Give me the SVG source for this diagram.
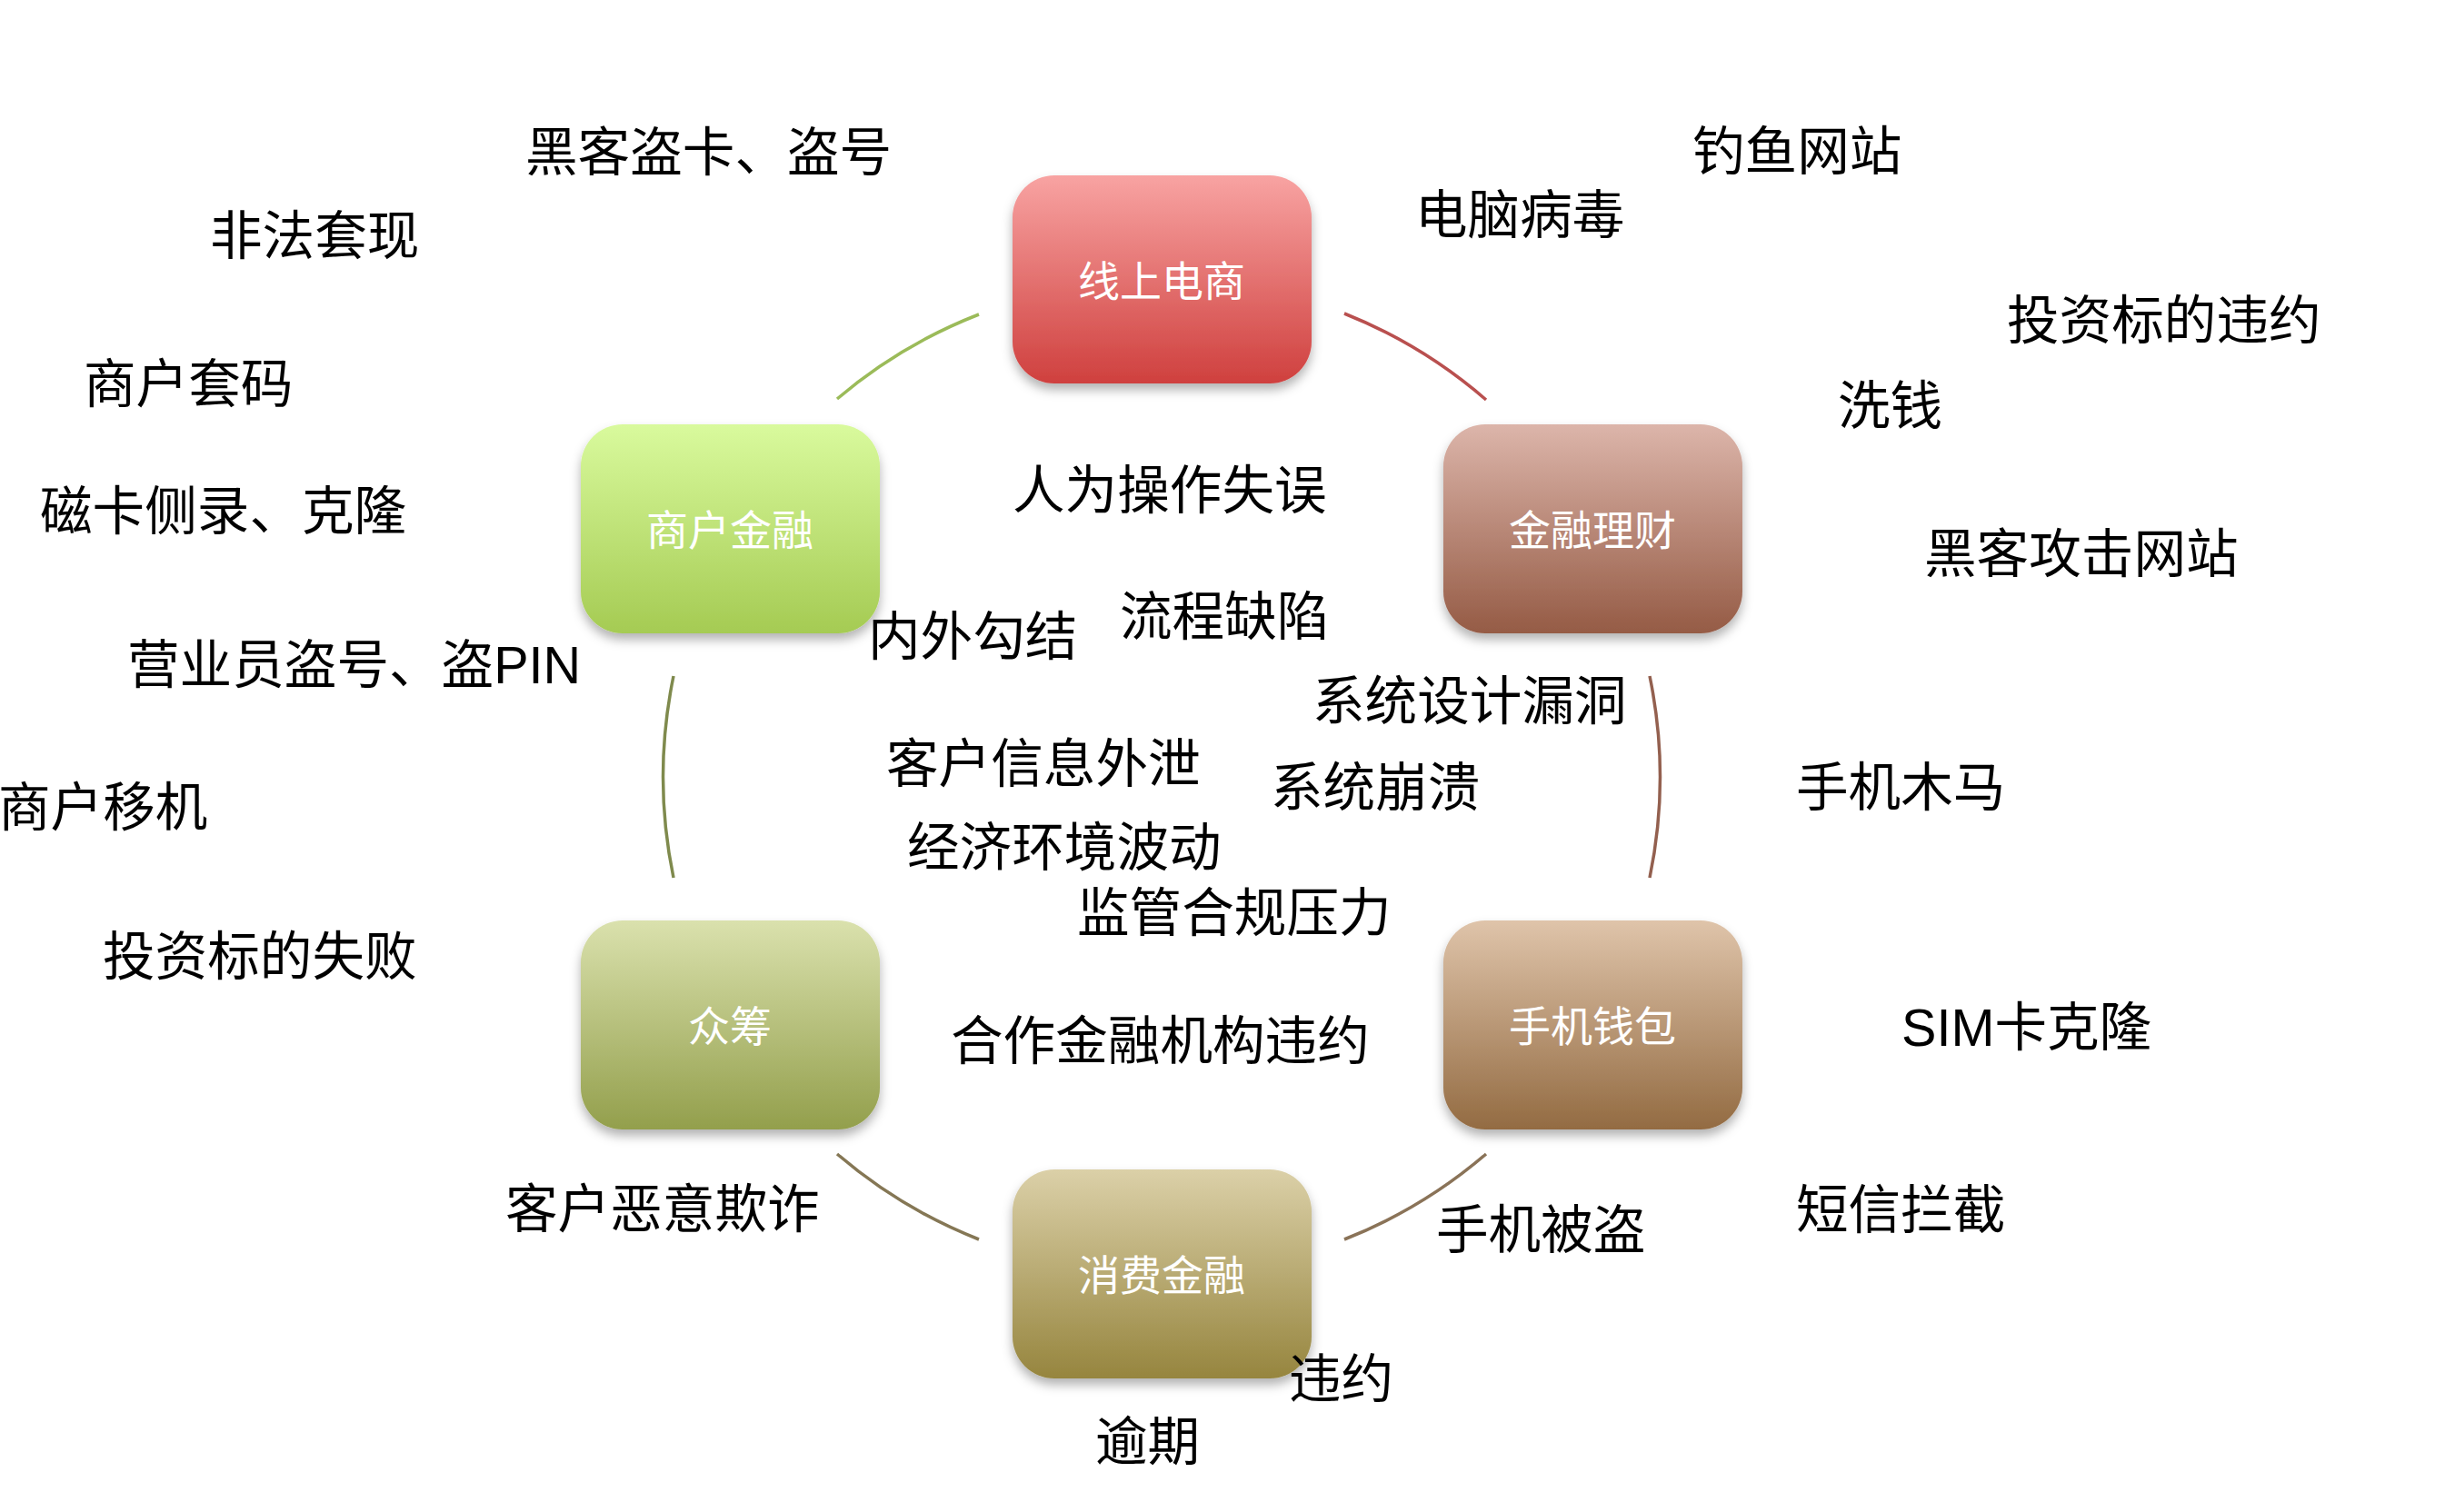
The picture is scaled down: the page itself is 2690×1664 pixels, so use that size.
<svg xmlns="http://www.w3.org/2000/svg" width="2690" height="1664" viewBox="0 0 2690 1664">
<defs>
<linearGradient id="gRed" x1="0" y1="0" x2="0" y2="1"><stop offset="0" stop-color="#F8A3A2"/><stop offset="1" stop-color="#CF403E"/></linearGradient>
<linearGradient id="gGreen" x1="0" y1="0" x2="0" y2="1"><stop offset="0" stop-color="#D9FA9D"/><stop offset="1" stop-color="#A5CB53"/></linearGradient>
<linearGradient id="gRose" x1="0" y1="0" x2="0" y2="1"><stop offset="0" stop-color="#DCB5AA"/><stop offset="1" stop-color="#955B45"/></linearGradient>
<linearGradient id="gTan" x1="0" y1="0" x2="0" y2="1"><stop offset="0" stop-color="#DFC4AA"/><stop offset="1" stop-color="#936B42"/></linearGradient>
<linearGradient id="gOlive" x1="0" y1="0" x2="0" y2="1"><stop offset="0" stop-color="#DAE1AD"/><stop offset="1" stop-color="#939F4C"/></linearGradient>
<linearGradient id="gKhaki" x1="0" y1="0" x2="0" y2="1"><stop offset="0" stop-color="#DBD0A8"/><stop offset="1" stop-color="#96853E"/></linearGradient>
<filter id="shadow" x="-20%" y="-20%" width="140%" height="150%"><feDropShadow dx="0" dy="7" stdDeviation="6" flood-color="#000" flood-opacity="0.3"/></filter>
<style>
.box{filter:url(#shadow)}
.lbl{font-family:"Liberation Sans","Noto Sans CJK SC",sans-serif;font-size:46px;fill:#FFFFFF;text-anchor:middle}
.t{font-family:"Liberation Sans","Noto Sans CJK SC",sans-serif;font-size:57.6px;fill:#000000}
.arc{fill:none;stroke-width:3.5}
</style>
</defs>
<rect width="2690" height="1664" fill="#FFFFFF"/>
<g id="connectors">
<path class="arc" stroke="#9BBB59" d="M 921 439 A 547 547 0 0 1 1077 346"/>
<path class="arc" stroke="#B9504F" d="M 1479 345 A 547 547 0 0 1 1635 440"/>
<path class="arc" stroke="#93604F" d="M 1815 744 A 547 547 0 0 1 1815 966"/>
<path class="arc" stroke="#8A7358" d="M 1635 1270 A 547 547 0 0 1 1479 1364"/>
<path class="arc" stroke="#857755" d="M 1077 1364 A 547 547 0 0 1 921 1270"/>
<path class="arc" stroke="#7F8A4D" d="M 741 966 A 547 547 0 0 1 741 744"/>
</g>
<g id="node-xianshang"><rect class="box" x="1114" y="193" width="329" height="229" rx="46" fill="url(#gRed)"/><text class="lbl" x="1278" y="326">线上电商</text></g>
<g id="node-jinrong"><rect class="box" x="1588" y="467" width="329" height="230" rx="46" fill="url(#gRose)"/><text class="lbl" x="1752" y="600">金融理财</text></g>
<g id="node-shouji"><rect class="box" x="1588" y="1013" width="329" height="230" rx="46" fill="url(#gTan)"/><text class="lbl" x="1752" y="1146">手机钱包</text></g>
<g id="node-xiaofei"><rect class="box" x="1114" y="1287" width="329" height="230" rx="46" fill="url(#gKhaki)"/><text class="lbl" x="1278" y="1420">消费金融</text></g>
<g id="node-zhongchou"><rect class="box" x="639" y="1013" width="329" height="230" rx="46" fill="url(#gOlive)"/><text class="lbl" x="803" y="1146">众筹</text></g>
<g id="node-shanghu"><rect class="box" x="639" y="467" width="329" height="230" rx="46" fill="url(#gGreen)"/><text class="lbl" x="803" y="600">商户金融</text></g>
<g id="labels">
<text class="t" x="578" y="188">黑客盗卡、盗号</text>
<text class="t" x="231" y="280">非法套现</text>
<text class="t" x="92" y="443">商户套码</text>
<text class="t" x="44" y="583">磁卡侧录、克隆</text>
<text class="t" x="140" y="752">营业员盗号、盗PIN</text>
<text class="t" x="955" y="721">内外勾结</text>
<text class="t" x="1114" y="560">人为操作失误</text>
<text class="t" x="1232" y="699">流程缺陷</text>
<text class="t" x="1444" y="792">系统设计漏洞</text>
<text class="t" x="975" y="861">客户信息外泄</text>
<text class="t" x="1398" y="887">系统崩溃</text>
<text class="t" x="998" y="953">经济环境波动</text>
<text class="t" x="1185" y="1025">监管合规压力</text>
<text class="t" x="1046" y="1166">合作金融机构违约</text>
<text class="t" x="556" y="1351">客户恶意欺诈</text>
<text class="t" x="1580" y="1374">手机被盗</text>
<text class="t" x="1418" y="1538">违约</text>
<text class="t" x="1205" y="1607">逾期</text>
<text class="t" x="1862" y="187">钓鱼网站</text>
<text class="t" x="1557" y="257">电脑病毒</text>
<text class="t" x="2208" y="373">投资标的违约</text>
<text class="t" x="2022" y="467">洗钱</text>
<text class="t" x="2117" y="630">黑客攻击网站</text>
<text class="t" x="1976" y="887">手机木马</text>
<text class="t" x="2092" y="1151">SIM卡克隆</text>
<text class="t" x="1976" y="1352">短信拦截</text>
<text class="t" x="-2" y="909">商户移机</text>
<text class="t" x="113" y="1073">投资标的失败</text>
</g>
</svg>
